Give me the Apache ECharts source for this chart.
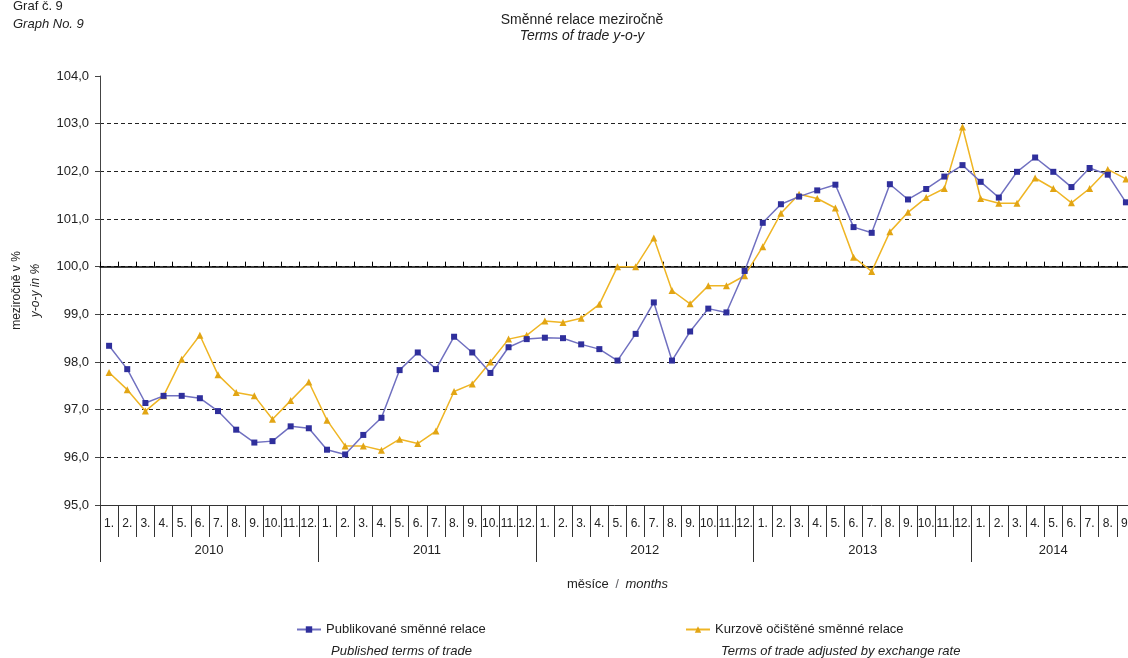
<!DOCTYPE html>
<html><head><meta charset="utf-8">
<script src="https://cdn.jsdelivr.net/npm/echarts@6/dist/echarts.min.js"></script>
<style>html,body{margin:0;padding:0;background:#fff}#c{width:1128px;height:658px}</style>
</head><body><div id="c"></div>
<script>
const years = ['2010', '2011', '2012', '2013', '2014'];
const monthsPerYear = [12, 12, 12, 12, 9];
const monthLabels = ['1.', '2.', '3.', '4.', '5.', '6.', '7.', '8.', '9.', '10.', '11.', '12.'];
const yTicks = { min: 95, max: 104, step: 1 };

const published = [
  98.34, 97.85, 97.14, 97.29, 97.29, 97.24, 96.97, 96.58, 96.31, 96.34, 96.65, 96.61,
  96.16, 96.06, 96.47, 96.83, 97.83, 98.20, 97.85, 98.53, 98.20, 97.77, 98.31, 98.48,
  98.51, 98.50, 98.37, 98.27, 98.03, 98.59, 99.25, 98.03, 98.64, 99.12, 99.04, 99.91,
  100.92, 101.31, 101.47, 101.60, 101.72, 100.83, 100.71, 101.73, 101.41, 101.63, 101.89, 102.13,
  101.78, 101.45, 101.99, 102.29, 101.99, 101.67, 102.07, 101.93, 101.35
];
const adjusted = [
  97.78, 97.42, 96.97, 97.29, 98.06, 98.56, 97.73, 97.36, 97.29, 96.80, 97.19, 97.58,
  96.78, 96.24, 96.24, 96.15, 96.38, 96.29, 96.55, 97.38, 97.54, 98.00, 98.48, 98.56,
  98.86, 98.83, 98.92, 99.21, 100.00, 100.00, 100.60, 99.50, 99.22, 99.60, 99.60, 99.81,
  100.42, 101.12, 101.52, 101.43, 101.23, 100.20, 99.90, 100.73, 101.14, 101.45, 101.64, 102.93,
  101.43, 101.33, 101.33, 101.86, 101.64, 101.34, 101.64, 102.04, 101.84
];

const names = ['Publikované směnné relace', 'Kurzově očištěné směnné relace'];
const namesEn = ['Published terms of trade', 'Terms of trade adjusted by exchange rate'];

const cats = [], monthOf = [], yearStart = {}, yearLabelIdx = {};
let idx = 0;
years.forEach((y, yi) => {
  const n = monthsPerYear[yi];
  yearStart[idx] = true;
  const mid = n % 2 === 0 ? idx + n / 2 : idx + (n - 1) / 2;
  yearLabelIdx[mid] = { year: y, shift: n % 2 === 0 };
  for (let m = 0; m < n; m++) { cats.push(y + '-' + (m + 1)); monthOf.push(monthLabels[m]); idx++; }
});

const font = 'Liberation Sans, Arial, sans-serif';
const txt = '#222';
const chart = echarts.init(document.getElementById('c'));

const gridTop = 76, gridBottomPx = 505;
const zeroPx = gridTop + (yTicks.max - 100) / (yTicks.max - yTicks.min) * (gridBottomPx - gridTop);

chart.setOption({
  animation: false,
  textStyle: { fontFamily: font },
  title: [
    { text: 'Graf č. 9', left: 8, top: -5, textStyle: { fontSize: 13, fontWeight: 'normal', color: txt, fontFamily: font } },
    { text: 'Graph No. 9', left: 8, top: 13, textStyle: { fontSize: 13, fontWeight: 'normal', fontStyle: 'italic', color: txt, fontFamily: font } },
    { text: 'Směnné relace meziročně', subtext: 'Terms of trade y-o-y', left: 577, top: 8, textAlign: 'center', itemGap: 2,
      textStyle: { fontSize: 14, fontWeight: 'normal', color: txt, fontFamily: font },
      subtextStyle: { fontSize: 14, fontStyle: 'italic', color: txt, fontFamily: font } }
  ],
  legend: [
    { data: [names[0]], left: 291, top: 618, itemWidth: 24, itemHeight: 8, itemGap: 5,
      textStyle: { fontSize: 13, color: txt, fontFamily: font } },
    { data: [names[1]], left: 680, top: 618, itemWidth: 24, itemHeight: 8, itemGap: 5,
      textStyle: { fontSize: 13, color: txt, fontFamily: font } }
  ],
  graphic: [
    { type: 'text', left: 331, top: 645, style: { text: namesEn[0], font: 'italic 13px ' + font, fill: txt } },
    { type: 'text', left: 721, top: 645, style: { text: namesEn[1], font: 'italic 13px ' + font, fill: txt } }
  ],
  grid: [
    { left: 100, right: -7, top: gridTop, bottom: 658 - gridBottomPx, containLabel: false, outerBoundsMode: 'none' },
    { left: 100, right: -7, top: gridTop, height: zeroPx - gridTop, containLabel: false, outerBoundsMode: 'none' }
  ],
  xAxis: [
    { type: 'category', gridIndex: 0, data: cats, position: 'bottom', boundaryGap: true,
      axisLine: { lineStyle: { color: '#333', width: 1 } },
      axisTick: { show: true, interval: 0, length: 32, lineStyle: { color: '#333' } },
      axisLabel: { interval: 0, margin: 13, fontSize: 12, color: txt, fontFamily: font,
        formatter: (v, i) => monthOf[i] },
      splitLine: { show: false } },
    { type: 'category', gridIndex: 0, data: cats, position: 'bottom', boundaryGap: true,
      name: '{a|měsíce}  /  {b|months}', nameLocation: 'middle', nameGap: 73,
      nameTextStyle: { rich: { a: { fontSize: 13, color: txt, fontFamily: font }, b: { fontSize: 13, fontStyle: 'italic', color: txt, fontFamily: font } } },
      axisLine: { show: false },
      axisTick: { show: true, length: 57, interval: (i) => !!yearStart[i], lineStyle: { color: '#333' } },
      axisLabel: { margin: 39, fontSize: 13, color: txt, fontFamily: font,
        interval: (i) => !!yearLabelIdx[i],
        formatter: (v, i) => { const o = yearLabelIdx[i]; if (!o) return ''; return o.shift ? '{s|' + o.year + '}' : '{n|' + o.year + '}'; },
        rich: { s: { padding: [0, 18, 0, 0], fontSize: 13, color: txt, fontFamily: font }, n: { fontSize: 13, color: txt, fontFamily: font } } },
      splitLine: { show: false } },
    { type: 'category', gridIndex: 1, data: cats, position: 'bottom', boundaryGap: true,
      axisLine: { lineStyle: { color: '#000', width: 1.5 } },
      axisTick: { show: true, inside: true, interval: 0, length: 5, lineStyle: { color: '#000' } },
      axisLabel: { show: false }, splitLine: { show: false } }
  ],
  yAxis: [
    { type: 'value', gridIndex: 0, min: yTicks.min, max: yTicks.max, interval: yTicks.step,
      name: 'meziročně v %\n{i|y-o-y in %}', nameLocation: 'middle', nameRotate: 90, nameGap: 50,
      nameTextStyle: { fontSize: 12, color: txt, fontFamily: font, lineHeight: 19,
        rich: { i: { fontSize: 12, fontStyle: 'italic', color: txt, fontFamily: font, lineHeight: 19 } } },
      axisLine: { show: true, lineStyle: { color: '#444', width: 1 } },
      axisTick: { show: true, length: 5, lineStyle: { color: '#444' } },
      axisLabel: { fontSize: 13, color: txt, fontFamily: font, margin: 11,
        formatter: (v) => v.toFixed(1).replace('.', ',') },
      splitLine: { show: true, showMaxLine: false, showMinLine: false, lineStyle: { color: '#222', type: [4, 3], width: 1 } } },
    { type: 'value', gridIndex: 1, show: false, min: 0, max: 1 }
  ],
  series: [
    { name: names[0], type: 'line', xAxisIndex: 0, yAxisIndex: 0, data: published,
      symbol: 'rect', symbolSize: 6, lineStyle: { color: '#7070c0', width: 1.5 },
      itemStyle: { color: '#2f2f9c' }, z: 4 },
    { name: names[1], type: 'line', xAxisIndex: 0, yAxisIndex: 0, data: adjusted,
      symbol: 'triangle', symbolSize: 7, lineStyle: { color: '#efb524', width: 1.5 },
      itemStyle: { color: '#e2a514' }, z: 3 }
  ]
});
</script></body></html>
